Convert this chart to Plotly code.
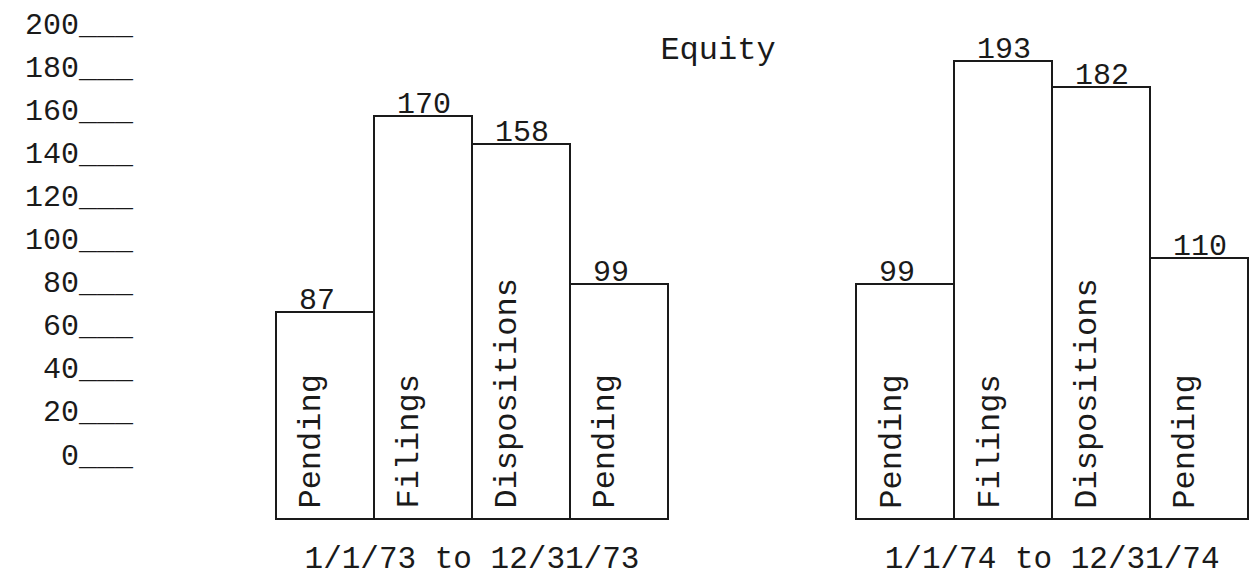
import plotly.graph_objects as go

# ---- data ----
periods = ["1/1/73 to 12/31/73", "1/1/74 to 12/31/74"]
categories = ["Pending", "Filings", "Dispositions", "Pending"]
values_1973 = [87, 170, 158, 99]
values_1974 = [99, 193, 182, 110]
tick_values = [0, 20, 40, 60, 80, 100, 120, 140, 160, 180, 200]
tick_labels = [f"{v}___" for v in tick_values]
chart_title = "Equity"

series = [values_1973, values_1974]

# ---- style / layout constants ----
FONT = "Liberation Mono, Courier New, monospace"
INK = "#1a1a1a"
FS = 32
GROUP_STEP = 5.92
W, H = 1253, 580

fig = go.Figure()
annotations = []
for g, (period, vals) in enumerate(zip(periods, series)):
    xs = [g * GROUP_STEP + i for i in range(len(vals))]
    fig.add_trace(go.Bar(
        x=xs, y=vals, width=1.0, name=period,
        marker=dict(color="white", line=dict(color=INK, width=2)),
        hoverinfo="y", showlegend=False,
    ))
    for x, v, cat in zip(xs, vals, categories):
        annotations.append(dict(
            x=x, y=v, xref="x", yref="y", text=str(v), showarrow=False,
            xanchor="left", xshift=-28, yanchor="bottom", yshift=-8,
            font=dict(family=FONT, size=30, color=INK),
        ))
        annotations.append(dict(
            x=x, y=0, xref="x", yref="y", text=cat, showarrow=False,
            textangle=-90, xanchor="center", yanchor="bottom", yshift=8,
            xshift=-13,
            font=dict(family=FONT, size=FS, color=INK),
        ))

group_centers = [g * GROUP_STEP + (len(categories) - 1) / 2 for g in range(len(periods))]

fig.update_layout(
    width=W, height=H,
    margin=dict(l=0, r=0, t=0, b=0),
    paper_bgcolor="white", plot_bgcolor="white",
    bargap=0,
    title=dict(text=chart_title, x=718 / W, y=1 - 48 / H, xanchor="center",
               yanchor="middle", font=dict(family=FONT, size=FS, color=INK)),
    xaxis=dict(range=[-3.316, 9.47], tickvals=group_centers, ticktext=periods,
               showgrid=False, zeroline=False, showline=False, ticks="",
               anchor="free", position=1 - 536 / H, automargin=False,
               tickfont=dict(family=FONT, size=31, color=INK)),
    yaxis=dict(range=[-25.9, 218.8], visible=False, showgrid=False, zeroline=False),
    yaxis2=dict(range=[-58.5, 210.9], overlaying="y", anchor="free", position=133 / W,
                side="left", tickvals=tick_values, ticktext=tick_labels,
                showgrid=False, zeroline=False, showline=False, ticks="",
                automargin=False,
                tickfont=dict(family=FONT, size=30, color=INK)),
    annotations=annotations,
)
# invisible trace to activate the tick axis
fig.add_trace(go.Scatter(x=[None], y=[None], yaxis="y2", showlegend=False, hoverinfo="skip"))

fig.write_html("out.html", config={"displayModeBar": False},
               post_script="document.body.style.margin='0px';")
